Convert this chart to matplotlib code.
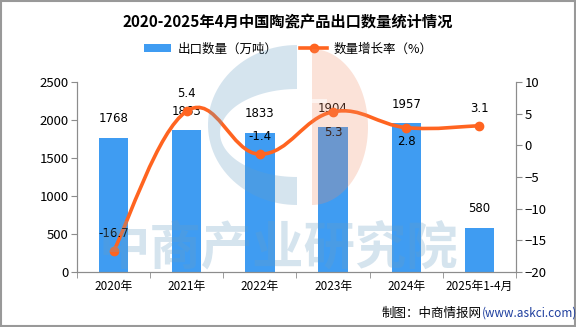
import numpy as np
import matplotlib
matplotlib.use("Agg")
import matplotlib.pyplot as plt
from matplotlib.path import Path
from matplotlib.patches import PathPatch, Rectangle, Polygon
from matplotlib.lines import Line2D
from matplotlib.patches import Patch

plt.rcParams['font.family'] = ['Noto Sans CJK SC', 'DejaVu Sans']

# data
categories = ['2020年', '2021年', '2022年', '2023年', '2024年', '2025年1-4月']
export_volume = [1768, 1863, 1833, 1904, 1957, 580]      # 万吨
growth_rate = [-16.7, 5.4, -1.4, 5.3, 2.8, 3.1]          # %
rate_label_below = [False, False, False, True, True, False]

bar_color = '#3f9cf2'
line_color = '#ff6420'
spine_color = '#8c8c8c'

W, H = 576, 327
fig = plt.figure(figsize=(W / 100, H / 100), dpi=100)


def fx(px):
    return px / W


def fy(py):
    return 1 - py / H


def half_ellipse(cx, cy, rx, ry, side, n=60):
    # points of a half ellipse in pixel coords, side=-1 left, +1 right
    th = np.linspace(-np.pi / 2, np.pi / 2, n)
    return np.column_stack([cx + side * rx * np.cos(th), cy + ry * np.sin(th)])


ax = fig.add_axes([fx(77), fy(272), fx(516) - fx(77), fy(82) - fy(272)])
ax.set_facecolor('none')
ax2 = ax.twinx()

x = np.arange(len(categories))
ax.bar(x, export_volume, width=0.4, color=bar_color, zorder=2)
for xi, v in zip(x, export_volume):
    ax.annotate(str(v), (xi, v), xytext=(0, 9), textcoords='offset points',
                ha='center', va='bottom', fontsize=8.5, family='DejaVu Sans')

ax.set_xlim(-0.5, len(categories) - 0.5)
ax.set_ylim(0, 2500)
ax.set_yticks(np.arange(0, 2501, 500))
ax.set_xticks(x)
ax.set_xticklabels(categories, fontsize=8.5)
ax.set_xticks(np.arange(-0.5, len(categories), 1), minor=True)
ax.tick_params(axis='x', which='major', length=0, pad=6)
ax.tick_params(axis='x', which='minor', length=4, color=spine_color)
ax.tick_params(axis='y', length=4, color=spine_color, labelsize=9.5, pad=2)

ax2.set_ylim(-20, 10)
ax2.set_yticks(np.arange(-20, 11, 5))
ax2.tick_params(axis='y', length=4, color=spine_color, labelsize=9.5, pad=2)

for a in (ax, ax2):
    a.spines['top'].set_visible(False)
    for s in ('left', 'right', 'bottom'):
        a.spines[s].set_color(spine_color)

# smooth line through the points (Catmull-Rom as cubic Bezier segments)
pts = np.column_stack([x, growth_rate]).astype(float)
verts = [tuple(pts[0])]
codes = [Path.MOVETO]
t = 0.2
for i in range(len(pts) - 1):
    p0 = pts[i - 1] if i > 0 else pts[i]
    p1 = pts[i]
    p2 = pts[i + 1]
    p3 = pts[i + 2] if i + 2 < len(pts) else pts[i + 1]
    c1 = p1 + (p2 - p0) * t
    c2 = p2 - (p3 - p1) * t
    verts += [tuple(c1), tuple(c2), tuple(p2)]
    codes += [Path.CURVE4] * 3
ax2.add_patch(PathPatch(Path(verts, codes), facecolor='none', edgecolor=line_color,
                        lw=2.6, zorder=3))
ax2.plot(x, growth_rate, 'o', color=line_color, ms=6, zorder=4)
for xi, v, below in zip(x, growth_rate, rate_label_below):
    if below:
        ax2.annotate(f'{v}', (xi, v), xytext=(0, -5 if xi == 4 else -10),
                     textcoords='offset points', ha='center', va='top',
                     fontsize=8.5, family='DejaVu Sans', zorder=5)
    else:
        ax2.annotate(f'{v}', (xi, v), xytext=(0, 8), textcoords='offset points',
                     ha='center', va='bottom', fontsize=8.5, family='DejaVu Sans', zorder=5)

# watermark overlay in pixel coordinates
wm = fig.add_axes([0, 0, 1, 1], zorder=10)
wm.set_xlim(0, W)
wm.set_ylim(H, 0)
wm.axis('off')
wm.patch.set_alpha(0)
outer = half_ellipse(297, 125, 89, 80, -1)
inner = half_ellipse(297, 133, 77, 44, -1)[::-1]
ring = np.vstack([outer, inner])
wm.add_patch(Polygon(ring, closed=True, facecolor='#6a9ec4', edgecolor='none', alpha=0.28))
wm.add_patch(Polygon(half_ellipse(312, 127, 56, 78, 1), closed=True,
                     facecolor='#f08c64', edgecolor='none', alpha=0.25))
wm.add_patch(Rectangle((311, 99), 16, 4, facecolor='white', edgecolor='none', alpha=0.6))
wm.text(278, 248, '中商产业研究院', fontsize=37, fontweight='bold', color='#6a9ec4',
        alpha=0.28, ha='center', va='center')

# title, legend, footer, frame
fig.text(0.5, fy(22), '2020-2025年4月中国陶瓷产品出口数量统计情况', ha='center',
         va='center', fontsize=11, fontweight='bold')
handles = [Patch(facecolor=bar_color, edgecolor='none'),
           Line2D([0], [0], color=line_color, lw=2.6, marker='o', ms=6)]
fig.legend(handles, ['出口数量（万吨）', '数量增长率（%）'], loc='center',
           bbox_to_anchor=(0.5, fy(49)), ncol=2, frameon=False, fontsize=9,
           handlelength=2.2, handleheight=0.6, columnspacing=1.8, handletextpad=0.5)
fig.text(fx(482), fy(313), '制图：中商情报网', ha='right', va='center', fontsize=9)
fig.text(fx(482), fy(313), '(www.askci.com)', ha='left', va='center', fontsize=8.5,
         color='#1f3f9f')
fig.patches.append(Rectangle((0.001, 0.002), 0.997, 0.995, transform=fig.transFigure,
                             fill=False, edgecolor='#999999', lw=1.5))

fig.savefig('out.png', dpi=100)
